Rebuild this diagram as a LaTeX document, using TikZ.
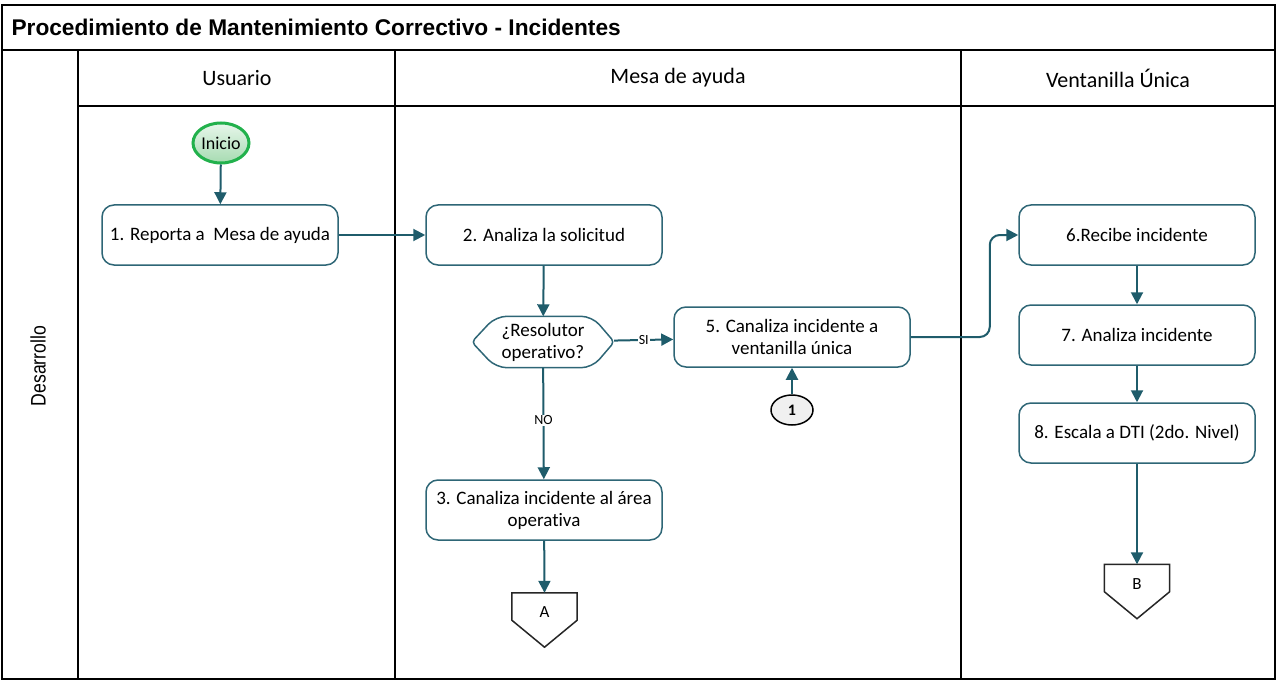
\documentclass[tikz,border=0pt]{standalone}
\usepackage{fontspec}
\setmainfont[Ligatures=NoCommon]{Carlito}
\newfontfamily\arialfont{Liberation Sans}
\usetikzlibrary{arrows.meta,shapes.geometric,calc}

\definecolor{flow}{HTML}{1F5C6B}
\definecolor{boxline}{HTML}{2E6676}
\definecolor{startgreen}{HTML}{22B14C}
\definecolor{starttop}{HTML}{E8F6EB}
\definecolor{startbot}{HTML}{A6DBB1}
\definecolor{connfill}{HTML}{F0F0F0}

\tikzset{
  lane/.style={draw=black, line width=1.6pt},
  procbox/.style={draw=boxline, line width=1.5pt, rounded corners=12pt, fill=white,
    minimum width=236pt, minimum height=60pt, align=center, inner sep=2pt,
    font=\fontsize{19}{22}\selectfont},
  flowarrow/.style={draw=flow, line width=2pt, -{Triangle[length=12pt,width=12pt]}},
  headtext/.style={font=\fontsize{22}{26}\selectfont},
  edgelabel/.style={fill=white, inner sep=1pt, font=\fontsize{14}{16}\selectfont},
  offpage/.style={minimum width=65pt, minimum height=54pt, inner sep=0pt,
    font=\fontsize{17}{20}\selectfont},
  offline/.style={draw=black!85, line width=1.5pt, fill=white, line join=miter}
}

\begin{document}
\begin{tikzpicture}[x=1pt,y=-1pt]
\useasboundingbox (0,0) rectangle (1282,687);

% swimlane frame
\draw[lane] (2,5) rectangle (1275,679);
\draw[lane] (2,50) -- (1275,50);
\draw[lane] (78,50) -- (78,679);
\draw[lane] (395,50) -- (395,679);
\draw[lane] (961,50) -- (961,679);
\draw[lane] (78,106) -- (1275,106);

% titles
\node[anchor=west, font=\arialfont\bfseries\fontsize{22.7}{26}\selectfont] (title) at (8,27)
  {Procedimiento de Mantenimiento Correctivo - Incidentes};
\node[headtext] (hU) at (237,78) {Usuario};
\node[headtext] (hM) at (678,78) {Mesa de ayuda};
\node[headtext] (hV) at (1118,78) {Ventanilla Única};
\node[rotate=90, font=\arialfont\fontsize{21}{24}\selectfont] (phase) at (38,366)
  {\scalebox{0.84}[1]{Desarrollo}};

% start event
\node[ellipse, draw=startgreen, line width=3pt, top color=starttop, bottom color=startbot,
  minimum width=56pt, minimum height=40pt, inner sep=0pt,
  font=\fontsize{18}{20}\selectfont] (start) at (221,143) {Inicio};

% process steps
\node[procbox] (b1) at (220,235) {1. Reporta a\ \ Mesa de ayuda};
\node[procbox] (b2) at (544,235) {2. Analiza la solicitud};
\node[procbox] (b3) at (544,510) {3. Canaliza incidente al área\\operativa};
\node[procbox] (b5) at (792,337) {5. Canaliza incidente a\\ventanilla única};
\node[procbox] (b6) at (1137,235) {6.Recibe incidente};
\node[procbox] (b7) at (1137,335) {7. Analiza incidente};
\node[procbox] (b8) at (1137,433) {8. Escala a DTI (2do. Nivel)};

% decision: hexagon with softened shoulders and near-pointed ends
\node[minimum width=142pt, minimum height=51pt, inner sep=0pt, align=center,
  font=\fontsize{19}{22}\selectfont] (dec) at (543,342) {¿Resolutor\\operativo?};
\draw[draw=boxline, line width=1.5pt]
  (dec.west)
  [rounded corners=11pt] -- ([xshift=24pt]dec.north west) -- ([xshift=-22pt]dec.north east)
  [rounded corners=4pt] -- (dec.east)
  [rounded corners=11pt] -- ([xshift=-22pt]dec.south east) -- ([xshift=24pt]dec.south west)
  [rounded corners=4pt] -- cycle;

% on-page connector
\node[ellipse, draw=black, line width=1.5pt, fill=connfill, minimum width=42pt,
  minimum height=30pt, inner sep=0pt, font=\bfseries\fontsize{16}{18}\selectfont]
  (c1) at (792,410) {1};

% off-page connectors
\node[offpage] (offA) at (544.5,620) {};
\draw[offline] (offA.north west) -- (offA.north east) -- ([yshift=27pt]offA.south east)
  -- (offA.south) -- ([yshift=27pt]offA.south west) -- cycle;
\node[font=\fontsize{17}{20}\selectfont] (labA) at (544.5,612) {A};
\node[offpage] (offB) at (1137,591.5) {};
\draw[offline] (offB.north west) -- (offB.north east) -- ([yshift=27pt]offB.south east)
  -- (offB.south) -- ([yshift=27pt]offB.south west) -- cycle;
\node[font=\fontsize{17}{20}\selectfont] (labB) at (1137,584) {B};

% flow
\draw[flowarrow] (start) -- (b1);
\draw[flowarrow] (b1) -- (b2);
\draw[flowarrow] (b2) -- (dec);
\draw[flowarrow] (dec) -- node[edgelabel, pos=0.5] {SI} (b5);
\draw[flowarrow] (dec) -- node[edgelabel, pos=0.47] {NO} (b3);
\draw[flowarrow] (c1) -- (b5);
\draw[flowarrow, rounded corners=10pt] (b5.east) -- ++(79,0) |- (b6.west);
\draw[flowarrow] (b6) -- (b7);
\draw[flowarrow] (b7) -- (b8);
\draw[flowarrow] (b8) -- (offB.north);
\draw[flowarrow] (b3) -- (offA.north);
\end{tikzpicture}
\end{document}
